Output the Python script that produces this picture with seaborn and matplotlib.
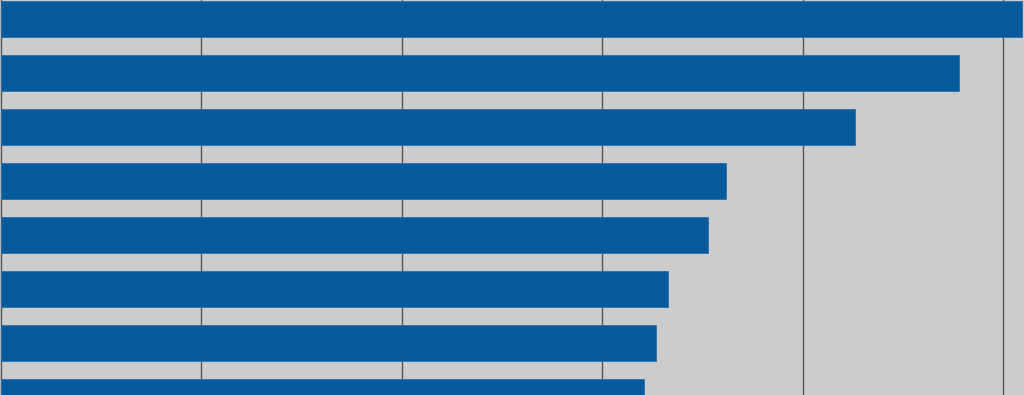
import matplotlib
matplotlib.use("Agg")
import matplotlib.pyplot as plt
import seaborn as sns
import pandas as pd

categories = ["A", "B", "C", "D", "E", "F", "G", "H"]
values = [50.95, 47.8, 42.6, 36.2, 35.3, 33.3, 32.7, 32.1]
grid_ticks = [0, 10, 20, 30, 40, 50]

df = pd.DataFrame({"category": categories, "value": values})

sns.set_style("white")
fig = plt.figure(figsize=(10.24, 3.95), dpi=100)
ax = fig.add_axes([0, 0, 1, 1])
ax.set_facecolor("#cccccc")
fig.patch.set_facecolor("#cccccc")

sns.barplot(data=df, y="category", x="value", orient="h", color="#045a9a",
            saturation=1, width=0.667, ax=ax, zorder=3,
            edgecolor="#2a6fa8", linewidth=0.6)

ax.set_xticks(grid_ticks)
ax.grid(axis="x", color="#555555", linewidth=1.0, zorder=0)
ax.grid(axis="y", visible=False)
ax.set_axisbelow(True)
ax.set_xlim(-0.05, 51.05)
ax.set_ylim(6.963, -0.352)
ax.set_xlabel("")
ax.set_ylabel("")
ax.tick_params(left=False, bottom=False, labelleft=False, labelbottom=False)
for s in ax.spines.values():
    s.set_visible(False)

fig.savefig("out.png", dpi=100, facecolor=fig.get_facecolor())
